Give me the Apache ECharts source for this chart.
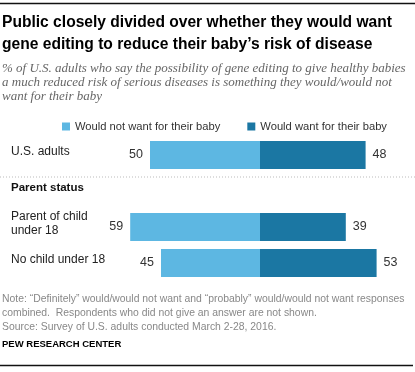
<!DOCTYPE html>
<html><head><meta charset="utf-8">
<script src="https://cdn.jsdelivr.net/npm/echarts@6/dist/echarts.min.js"></script>
<style>html,body{margin:0;padding:0;background:#fff}#c{width:415px;height:372px}</style>
</head><body><div id="c"></div>
<script>
const categories = ["U.S. adults", "Parent status", "Parent of child\nunder 18", "No child under 18"];
const wouldNot = [50, null, 59, 45];
const wouldWant = [48, null, 39, 53];
const seriesNames = ["Would not want for their baby", "Would want for their baby"];

const chart = echarts.init(document.getElementById('c'), null, {renderer: 'canvas'});
const sans = "'Liberation Sans', Arial, sans-serif";
chart.setOption({
  animation: false,
  title: [
    {text: "Public closely divided over whether they would want\ngene editing to reduce their baby’s risk of disease", left: 2, top: 12, padding: 0,
     textStyle: {fontFamily: sans, fontWeight: 'bold', fontSize: 15.6, lineHeight: 22, color: '#000'}},
    {text: "% of U.S. adults who say the possibility of gene editing to give healthy babies\na much reduced risk of serious diseases is something they would/would not\nwant for their baby", left: 2, top: 62, padding: 0,
     textStyle: {fontFamily: "'Liberation Serif', serif", fontStyle: 'italic', fontWeight: 'normal', fontSize: 13, lineHeight: 14, color: '#666'}},
    {text: "Note: “Definitely” would/would not want and “probably” would/would not want responses\ncombined.  Respondents who did not give an answer are not shown.\nSource: Survey of U.S. adults conducted March 2-28, 2016.", left: 2, top: 292, padding: 0,
     textStyle: {fontFamily: sans, fontWeight: 'normal', fontSize: 10.4, lineHeight: 14, color: '#888'}},
    {text: "PEW RESEARCH CENTER", left: 2, top: 339, padding: 0,
     textStyle: {fontFamily: sans, fontWeight: 'bold', fontSize: 9.5, color: '#000'}}
  ],
  legend: {
    left: 62, top: 121, padding: 0, itemWidth: 8, itemHeight: 8, itemGap: 27, icon: 'rect',
    textStyle: {fontFamily: sans, fontSize: 11.2, color: '#333'},
    data: seriesNames
  },
  grid: {left: 128, right: 23, top: 137, bottom: 91, containLabel: false},
  xAxis: {type: 'value', min: -60, max: 60, show: false},
  yAxis: {
    type: 'category', data: categories, inverse: true,
    axisLine: {show: false}, axisTick: {show: false}, splitLine: {show: false},
    axisLabel: {
      align: 'left', margin: 117, fontFamily: sans, fontSize: 12, color: '#222', lineHeight: 14,
      padding: [0, 0, 6, 0],
      formatter: function (v) { return v === 'Parent status' ? '{b|' + v + '}' : v; },
      rich: {b: {fontFamily: sans, fontWeight: 'bold', fontSize: 11.5, color: '#111'}}
    }
  },
  series: [
    {name: seriesNames[0], type: 'bar', stack: 's', barWidth: 28,
     data: wouldNot.map(v => v == null ? null : -v),
     itemStyle: {color: '#5DB7E2'},
     label: {show: true, position: 'left', distance: 7, fontFamily: sans, fontSize: 12.5, color: '#333',
             formatter: p => Math.abs(p.value)}},
    {name: seriesNames[1], type: 'bar', stack: 's', barWidth: 28,
     data: wouldWant,
     itemStyle: {color: '#1B77A3'},
     label: {show: true, position: 'right', distance: 7, fontFamily: sans, fontSize: 12.5, color: '#333'}}
  ],
  graphic: [
    {type: 'line', shape: {x1: 0, y1: 3.5, x2: 415, y2: 3.5}, style: {stroke: '#111', lineWidth: 1.5}},
    {type: 'line', shape: {x1: 0, y1: 177, x2: 415, y2: 177}, style: {stroke: '#bbb', lineWidth: 1, lineDash: [1, 2]}},
    {type: 'line', shape: {x1: 0, y1: 365.5, x2: 413, y2: 365.5}, style: {stroke: '#111', lineWidth: 1.5}}
  ]
});
</script></body></html>
